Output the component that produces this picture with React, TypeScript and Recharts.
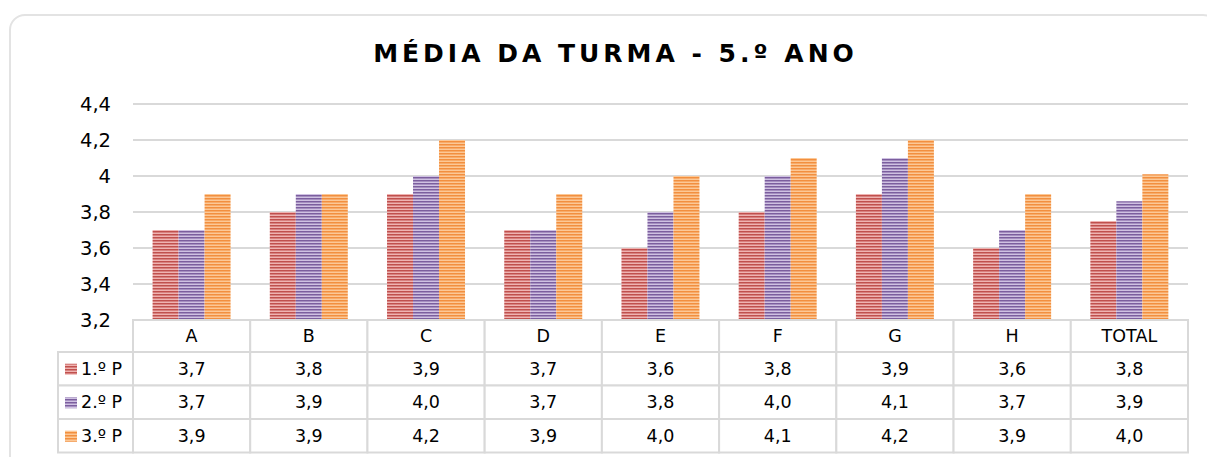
import { Bar, BarChart, CartesianGrid, XAxis, YAxis } from "recharts"

const categories = ["A", "B", "C", "D", "E", "F", "G", "H", "TOTAL"]
const p1 = [3.7, 3.8, 3.9, 3.7, 3.6, 3.8, 3.9, 3.6, 3.75]
const p2 = [3.7, 3.9, 4.0, 3.7, 3.8, 4.0, 4.1, 3.7, 3.86]
const p3 = [3.9, 3.9, 4.2, 3.9, 4.0, 4.1, 4.2, 3.9, 4.01]
const seriesNames = ["1.º P", "2.º P", "3.º P"]
const seriesKeys = ["p1", "p2", "p3"]
const seriesValues = [p1, p2, p3]
const yTicks = [3.2, 3.4, 3.6, 3.8, 4.0, 4.2, 4.4]
const title = "MÉDIA DA TURMA - 5.º ANO"

const stripes = [
  { id: "st-red", dark: "#c0504d", light: "#efb3b1" },
  { id: "st-purple", dark: "#7b5e9e", light: "#cfc1e2" },
  { id: "st-orange", dark: "#f28f3f", light: "#fcc896" },
]

const data = categories.map((name, i) => ({ name, p1: p1[i], p2: p2[i], p3: p3[i] }))

const W = 1207
const H = 457
const PLOT_LEFT = 133
const PLOT_RIGHT = 1188
const COL_W = (PLOT_RIGHT - PLOT_LEFT) / categories.length
const LABEL_LEFT = 58
const HEADER_H = 32
const ROW_H = 33.5
const GRID = "#d9d9d9"
const FONT = "'DejaVu Sans', Verdana, sans-serif"

const fmt = (v: number) => String(v).replace(".", ",")
const fmt1 = (v: number) => v.toFixed(1).replace(".", ",")

function TableTick(props: any) {
  const { x, y, payload, index } = props
  const left = x - COL_W / 2
  return (
    <g>
      <rect x={left} y={y} width={COL_W} height={HEADER_H} fill="#fff" stroke={GRID} strokeWidth={2} />
      <text x={x} y={y + HEADER_H / 2 + 6} textAnchor="middle" fontSize={17.5} fontFamily={FONT} fill="#000">
        {payload.value}
      </text>
      {seriesValues.map((vals, r) => {
        const ry = y + HEADER_H + r * ROW_H
        return (
          <g key={r}>
            <rect x={left} y={ry} width={COL_W} height={ROW_H} fill="#fff" stroke={GRID} strokeWidth={2} />
            <text x={x} y={ry + ROW_H / 2 + 6} textAnchor="middle" fontSize={17.5} fontFamily={FONT} fill="#000">
              {fmt1(vals[index])}
            </text>
          </g>
        )
      })}
      {index === 0 &&
        seriesNames.map((name, r) => {
          const ry = y + HEADER_H + r * ROW_H
          return (
            <g key={name}>
              <rect x={LABEL_LEFT} y={ry} width={left - LABEL_LEFT} height={ROW_H} fill="#fff" stroke={GRID} strokeWidth={2} />
              <rect x={LABEL_LEFT + 7} y={ry + ROW_H / 2 - 5} width={12} height={11} fill={`url(#${stripes[r].id})`} />
              <text x={LABEL_LEFT + 23} y={ry + ROW_H / 2 + 6} fontSize={17.5} fontFamily={FONT} fill="#000">
                {name}
              </text>
            </g>
          )
        })}
    </g>
  )
}

export default function App() {
  return (
    <div style={{ position: "absolute", left: 0, top: 0, width: W, height: H, overflow: "hidden", background: "#fff" }}>
      <div
        style={{
          position: "absolute",
          left: 9,
          top: 14,
          width: 1210,
          height: 520,
          border: `2px solid #e3e3e3`,
          borderRadius: 16,
          boxSizing: "border-box",
        }}
      />
      <div
        style={{
          position: "absolute",
          left: 12,
          width: W,
          top: 39,
          textAlign: "center",
          fontFamily: FONT,
          fontWeight: "bold",
          fontSize: 25,
          letterSpacing: 4,
          color: "#000",
        }}
      >
        {title}
      </div>
      <div style={{ position: "absolute", left: 0, top: 0 }}>
        <BarChart
          width={W}
          height={H}
          data={data}
          margin={{ top: 104, right: W - PLOT_RIGHT, left: 0, bottom: 0 }}
          barCategoryGap="16.7%"
          barGap={0}
        >
          <defs>
            {stripes.map((s) => (
              <pattern key={s.id} id={s.id} patternUnits="userSpaceOnUse" width={8} height={3}>
                <rect x={0} y={0} width={8} height={3} fill={s.light} />
                <rect x={0} y={0} width={8} height={1.5} fill={s.dark} />
              </pattern>
            ))}
          </defs>
          <CartesianGrid vertical={false} stroke={GRID} strokeWidth={2} />
          <XAxis
            dataKey="name"
            height={H - 320}
            axisLine={false}
            tickLine={false}
            tickSize={0}
            tickMargin={0}
            interval={0}
            tick={<TableTick />}
          />
          <YAxis
            width={PLOT_LEFT}
            domain={[3.2, 4.4]}
            ticks={yTicks}
            tickFormatter={fmt}
            axisLine={false}
            tickLine={false}
            tickSize={0}
            tickMargin={22}
            tick={{ fontSize: 19.5, fontFamily: FONT, fill: "#000" }}
          />
          {seriesKeys.map((k, i) => (
            <Bar key={k} dataKey={k} name={seriesNames[i]} fill={`url(#${stripes[i].id})`} isAnimationActive={false} />
          ))}
        </BarChart>
      </div>
    </div>
  )
}
